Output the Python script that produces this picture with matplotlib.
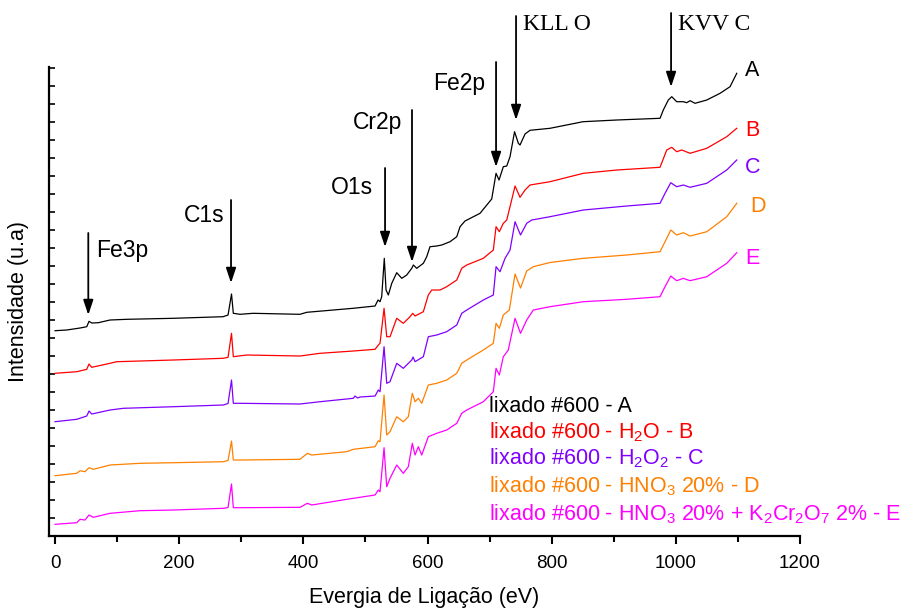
import matplotlib
matplotlib.use("Agg")
import matplotlib.pyplot as plt
from matplotlib.ticker import MultipleLocator

plt.rcParams['font.family'] = ['Liberation Sans', 'DejaVu Sans']
plt.rcParams['mathtext.fontset'] = 'custom'
plt.rcParams['mathtext.rm'] = 'Liberation Sans'

# Spectra (binding energy in eV, intensity in arbitrary units)
energy_A = [0, 18.8, 40.3, 51.1, 54.8, 59.1, 69.7, 88.6, 115.5, 190.1, 270.6, 278.7, 284.3, 287.2,
            298, 318.9, 394.6, 405.4, 480, 515.5, 520.3, 523.5, 526.2, 530.4, 533.2, 536.9, 542.4,
            550.4, 558.5, 566.5, 574.6, 577.2, 582.6, 593.3, 598.7, 604, 614.8, 622.9, 636.3, 647.1,
            652.4, 660.4, 684.6, 703.4, 710.4, 715.2, 722.1, 727.6, 732.9, 740.2, 746.3, 749, 757.1,
            765.1, 797.3, 850.5, 904.8, 974.5, 979.8, 987.9, 993.4, 1001.4, 1012.1, 1017.5, 1022.9,
            1030.9, 1049.8, 1071.2, 1087.3, 1098.1]
int_A = [205.3, 206, 208, 209.3, 214.7, 213, 213.3, 216, 216.7, 217.7, 219.3, 221, 242, 222.7,
         221.7, 222.7, 221.7, 223.7, 227.7, 230, 236, 234.3, 239.3, 277.7, 246, 241, 252.7,
         263.3, 257.7, 261, 267.7, 271, 267.7, 272.7, 279.3, 289.3, 290, 291, 294.3, 299.3,
         309.3, 315, 322.7, 337, 362.7, 356, 369.3, 370, 379.3, 404.3, 392.7, 391, 402,
         405.7, 407.7, 414.3, 416, 417.7, 426, 436, 439.3, 434.3, 434.3, 433.3, 435.3,
         432.7, 436, 442.7, 449.3, 462.7]

energy_B = [0, 35, 51.1, 54.8, 59.1, 88.6, 99.4, 190.6, 270.6, 278.7, 284.3, 287.2, 308.8, 394.6,
            426.9, 480.5, 515.5, 520.8, 523.5, 530, 534.3, 539.6, 550.4, 561, 571.8, 576.2, 579.9,
            593.3, 601.3, 606.8, 620.2, 630.9, 647.1, 655.1, 663.2, 689.9, 706, 710.4, 715.7, 722.1,
            727.6, 732.9, 741, 749, 757.1, 765.1, 797.3, 851, 904.8, 974.5, 985.3, 993.4, 1001.4,
            1009.5, 1022.9, 1049.8, 1082, 1098.1]
int_B = [162.7, 164.3, 166.7, 172, 168.7, 172.7, 174.3, 176, 177.7, 178.7, 202.7, 179.3, 181, 180,
         182.7, 185, 186.7, 191, 192.7, 227.7, 199.3, 199.3, 217.7, 212.7, 219.3, 222.7, 220,
         224.3, 241, 246, 246, 249.3, 256, 267.7, 271, 277.7, 286, 309.3, 304.3, 312.7,
         316, 329.3, 350, 338.7, 346, 351, 354.3, 362.7, 366, 368.7, 386, 388.7, 384.3,
         386, 382.7, 387.7, 399.3, 407.7]

energy_C = [0, 35, 51.1, 54.8, 59.1, 88.6, 110, 190.6, 271.1, 278.7, 284.3, 287.2, 298, 394.6,
            426.9, 480.5, 483.2, 487.3, 491.3, 515.5, 520.8, 523.5, 530, 534.3, 539.6, 550.4, 561,
            574.6, 576.7, 579.9, 593.3, 601.3, 614.8, 630.9, 647.1, 655.1, 663.2, 689.9, 706, 710.4,
            716.8, 724.9, 732.9, 741, 749.8, 759.8, 767.9, 797.3, 851, 920.9, 974.5, 982.6, 991.8,
            1001.4, 1012.1, 1022.9, 1049.8, 1082, 1098.1]
int_C = [114.3, 116.7, 120, 125, 122, 126, 127.7, 129.3, 131, 132.5, 156, 132.7, 132.7, 132,
         134.3, 137.7, 140, 138, 139, 140, 146, 144.3, 189.3, 152.7, 154.3, 172.7, 167.7,
         176, 179, 174.3, 179.3, 199.3, 201, 204.3, 211, 222.7, 226, 236, 241, 269.3,
         264.3, 277.7, 286, 314.3, 301, 312.7, 316, 319.3, 326, 330, 332.7, 342.7, 353.3,
         349.3, 351, 348.7, 352.7, 366, 376]

energy_D = [0, 35, 40.3, 48.3, 54.8, 61.7, 88.6, 136.9, 190.6, 271.1, 278.7, 284.3, 287.2, 298,
            394.6, 406.4, 413.5, 469.9, 480.5, 515.5, 520.8, 523.5, 530, 534.3, 539.6, 550.4, 561,
            569.1, 575.5, 579.9, 585.2, 590.7, 601.3, 614.8, 630.9, 647.1, 655.1, 663.2, 689.9, 706,
            710.4, 715.7, 722.1, 731.8, 741, 749.8, 759.8, 770.4, 797.3, 851, 920.9, 974.5, 982.6,
            991.8, 1001.4, 1012.1, 1022.9, 1049.8, 1082, 1098.1]
int_D = [60.3, 62.7, 65.3, 64.3, 68.3, 66.7, 71, 72.7, 73.3, 74.3, 75.5, 95, 76, 76,
         76.7, 82.7, 81, 84.3, 86.7, 89.3, 95.3, 94.3, 141, 101, 104.3, 119.3, 114.3,
         119.3, 142.7, 134.3, 137.7, 132.7, 151, 152.7, 156, 162.7, 172.7, 176, 186, 192.7,
         212.7, 207.7, 221, 226, 262, 248, 265, 269.3, 273.5, 277.7, 281, 284.3, 294.3,
         306, 301, 303.3, 300, 304.3, 319.3, 332.7]

energy_E = [0, 35, 40.3, 48.3, 54.8, 61.7, 88.6, 136.9, 190.6, 271.1, 278.7, 284.3, 287.2, 298,
            394.6, 406.4, 413.5, 469.9, 515.5, 520.8, 523.5, 530, 534.3, 539.6, 550.4, 561, 569.1,
            575.5, 579.9, 585.2, 590.7, 601.3, 614.8, 630.9, 647.1, 655.1, 663.2, 689.9, 706, 710.4,
            715.7, 722.1, 730.1, 741, 749.8, 759.8, 770.4, 797.3, 851, 920.9, 974.5, 982.6, 991.8,
            1001.4, 1012.1, 1022.9, 1049.8, 1082, 1098.1]
int_E = [11.7, 13.3, 16.7, 16, 21, 18.7, 22.7, 25.3, 26, 27.7, 28.5, 52, 28.3, 28.3,
         28.7, 32.7, 31, 36.7, 41, 46, 44.3, 88.3, 49.3, 57.7, 71, 62.7, 69.3,
         92.7, 81, 89.3, 81, 99.3, 102.7, 106, 112.7, 122.7, 126, 134.3, 144.3, 167.7,
         161, 179.3, 186, 217.7, 202.7, 216, 226, 229.3, 234.3, 236.7, 239.3, 249.3, 260,
         255.3, 257.7, 255.3, 259.3, 272.7, 283.3]

colors = ['black', '#FF0000', '#8000FF', '#FF8000', '#FF00FF']
curve_letters = ['A', 'B', 'C', 'D', 'E']
legend_lines = ['lixado #600 - A',
                r'lixado #600 - H$_2$O - B',
                r'lixado #600 - H$_2$O$_2$ - C',
                r'lixado #600 - HNO$_3$ 20% - D',
                r'lixado #600 - HNO$_3$ 20% + K$_2$Cr$_2$O$_7$ 2% - E']

# peak markers: name, energy, arrow top, arrow tip
peaks = ['Fe3p', 'C1s', 'O1s', 'Cr2p', 'Fe2p', 'KLL O', 'KVV C']
peak_energy = [53.6, 283.5, 531.6, 575, 710.4, 742.6, 992.3]
arrow_top = [303, 336, 368, 426, 474, 520, 523]
arrow_tip = [221, 253, 289, 274, 369, 416, 449]

fig = plt.figure(figsize=(9.09, 6.08), dpi=100)
ax = fig.add_axes([0.0539, 0.1184, 0.8262, 0.7714])

energies = [energy_A, energy_B, energy_C, energy_D, energy_E]
intens = [int_A, int_B, int_C, int_D, int_E]
for e, i, c in zip(energies, intens, colors):
    ax.plot(e, i, color=c, lw=0.9)

ax.set_xlim(-9.7, 1200)
ax.set_ylim(0, 469)
ax.spines['top'].set_visible(False)
ax.spines['right'].set_visible(False)
ax.spines['left'].set_linewidth(1.6)
ax.spines['bottom'].set_linewidth(1.6)
ax.xaxis.set_major_locator(MultipleLocator(200))
ax.xaxis.set_minor_locator(MultipleLocator(100))
ax.yaxis.set_major_locator(MultipleLocator(18))
ax.tick_params(axis='x', which='major', direction='out', length=6, width=1.5, labelsize=13.5, pad=8)
ax.tick_params(axis='x', which='minor', direction='out', length=4, width=1.5)
ax.tick_params(axis='y', which='major', direction='in', length=4, width=1.2, labelleft=False)

fig.text(424.5 / 909, 1 - 597 / 608, 'Evergia de Ligação (eV)', ha='center', va='center', fontsize=15.5)
fig.text(19 / 909, 1 - 301 / 608, 'Intensidade (u.a)', ha='center', va='center', rotation=90, fontsize=15.5)

for k in range(len(peaks)):
    ax.annotate('', xy=(peak_energy[k], arrow_tip[k]), xytext=(peak_energy[k], arrow_top[k]),
                annotation_clip=False,
                arrowprops=dict(arrowstyle='-|>,head_length=0.9,head_width=0.3', color='black',
                                lw=1.3, mutation_scale=10, shrinkA=0, shrinkB=0))

# labels for the peaks
ax.text(65.6, 286, 'Fe3p', fontsize=16.5, ha='left', va='center')
ax.text(273.8, 321, 'C1s', fontsize=16.5, ha='right', va='center')
ax.text(512.2, 349, 'O1s', fontsize=16.5, ha='right', va='center')
ax.text(559, 414, 'Cr2p', fontsize=16.5, ha='right', va='center')
ax.text(692.6, 453, 'Fe2p', fontsize=16.5, ha='right', va='center')
ax.text(753.4, 512, 'KLL O', fontsize=17, ha='left', va='center', family='Liberation Serif', clip_on=False)
ax.text(1003, 512, 'KVV C', fontsize=17, ha='left', va='center', family='Liberation Serif', clip_on=False)

letter_x = [1111.5, 1111.5, 1111.5, 1119.5, 1111.5]
letter_y = [466, 406, 369, 330, 278]
for k in range(5):
    ax.text(letter_x[k], letter_y[k], curve_letters[k], color=colors[k], fontsize=15.5,
            ha='left', va='center', clip_on=False)

legend_y = [130, 104.3, 78, 50, 22]
for k in range(5):
    ax.text(699, legend_y[k], legend_lines[k], color=colors[k], fontsize=15.5, ha='left', va='center')

fig.savefig('out.png', dpi=100)
